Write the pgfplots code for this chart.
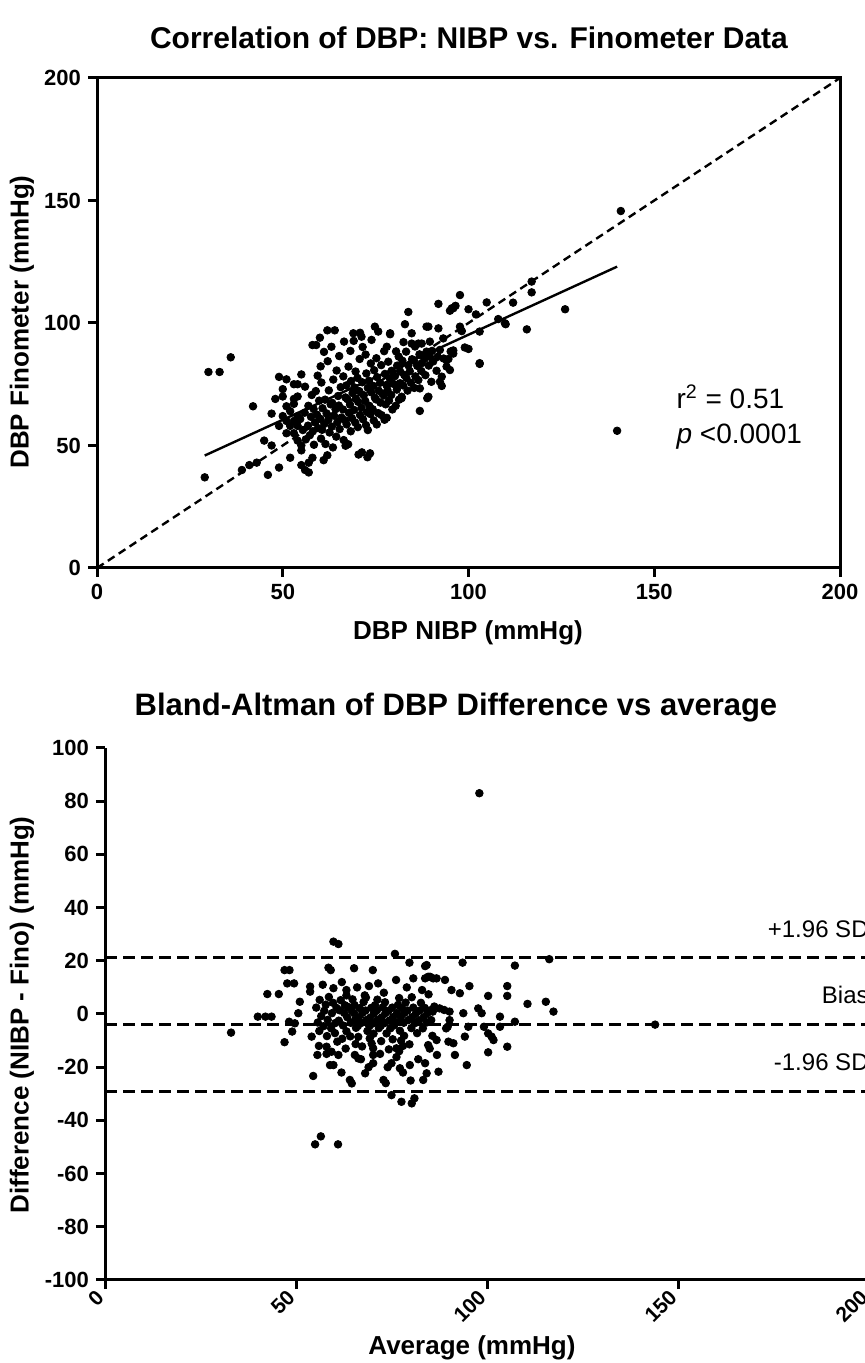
\documentclass[border=0pt]{standalone}
\usepackage{fontspec}
\setmainfont{Liberation Sans}
\usepackage{pgfplots}
\pgfplotsset{compat=1.18}
\pgfplotsset{
  prism/.style={
    scale only axis,
    axis line style={line width=1.5pt,-},
    every tick/.style={black,line width=1.5pt},
    tick align=outside,
    major tick length=4.5pt,
    xtick pos=left, ytick pos=left,
    tick label style={font=\bfseries\fontsize{11}{13}\selectfont},
    clip=false,
  },
  dots/.style={only marks, mark=*, mark size=1.9pt, black, mark options={fill=black}},
}
\begin{document}
\begin{tikzpicture}
\useasboundingbox (0pt,0pt) rectangle (432pt,681.5pt);
% ---------- titles and labels ----------
\node[font=\bfseries\fontsize{15}{18}\selectfont] at (234.5pt,662.5pt) {Correlation of DBP: NIBP vs. Finometer Data};
\node[font=\bfseries\fontsize{13}{15}\selectfont, rotate=90] at (11pt,520.5pt) {DBP Finometer (mmHg)};
\node[font=\bfseries\fontsize{13}{15}\selectfont] at (234pt,365pt) {DBP NIBP (mmHg)};
\node[font=\bfseries\fontsize{15.5}{18}\selectfont] at (228pt,327.5pt) {Bland-Altman of DBP Difference vs average};
\node[font=\bfseries\fontsize{13}{15}\selectfont, rotate=90] at (11pt,174pt) {Difference (NIBP - Fino) (mmHg)};
\node[font=\bfseries\fontsize{13}{15}\selectfont] at (236pt,7.5pt) {Average (mmHg)};

% ---------- top plot ----------
\begin{axis}[prism, at={(48.5pt,397.5pt)}, anchor=south west,
  width=371.5pt, height=245pt,
  xmin=0, xmax=200, ymin=0, ymax=200,
  xtick={0,50,100,150,200}, xticklabels={0,50,100,150,200},
  ytick={0,50,100,150,200}, yticklabels={0,50,100,150,200},
]
\addplot[black, line width=1.2pt, dash pattern=on 4pt off 2.5pt] coordinates {(0,0) (200,200)};
\addplot[black, line width=1.2pt] coordinates {(29,45.9) (140,123)};
\addplot[dots] coordinates {
(29,37) (30,80) (33,80) (36,86) (39,40) (41,42) (42,66) (43,43) (45,52) (46,38)
(47,50) (47,63) (48,69) (49,78) (49,41) (49,58) (50,70) (50,73) (51,77) (51,66)
(51,55) (52,45) (53,75) (53,69) (53,67) (54,75) (55,79) (56,74) (55,48) (56,40)
(57,39) (58,91) (59,91) (60,94) (62,97) (64,97)
(66.9,49.9) (72.9,56.3) (73.5,46.8) (72.8,45.2) (78,61.3) (82,69.3) (86.9,64.1) (88.9,69.3)
(86.9,73.3) (92.8,74.3) (103,83.6) (100,89.4) (97.7,111.4) (91.9,107.8) (95.9,106) (104.9,108.4)
(112,108.3) (109.8,99.9) (115.7,97.4) (83.8,104.5) (74.8,98.5) (75.7,96.5) (78.9,95.4) (89.2,98.5)
(69,95.8) (70.8,96) (71.2,94.4) (73.9,93.1)
(141,145.7) (117,116.9) (117,112.5) (126,105.6) (108,101.6) (110,99.5) (103,96.5) (103,83.3)
(95.5,106) (96.5,107) (95,105) (100,105.6) (102,103.5) (97.7,98.5) (98.2,96.7) (91.9,97.8)
(88.7,98.5) (82.9,99.5) (78.9,95.8) (78,90.3) (84.7,95.8) (86.5,91.6) (87.4,91.6) (84.7,91.6)
(89.6,92.4) (93.2,93.7) (92.3,89) (94.1,84.8) (95,80.8) (95.9,88.8) (95.9,87.5) (87.4,83.6)
(94.1,82.2) (92.8,78.1) (92.3,76) (90,76) (89.2,69.9) (82,69.9) (80.6,74.7) (81.6,75.4) (140,56)
(50,62) (51,60) (52,58) (52,64) (53,55) (53,60) (54,52) (54,58) (54,62) (54,70) (55,50) (55,42)
(58,45) (61,44) (62,46) (57,43)
(55.4,56.3) (54.7,60.8) (56.2,52.5) (56.8,58.1) (55.9,63.4) (57.3,54.2) (57.6,61.7) (56.9,66.2) (57.8,70.6) (58.4,50.3) (58.1,55.8) (58.7,59.4)
(58.3,64.9) (58.9,72.2) (59.5,57.1) (59.2,62.6) (59.8,68.3) (59.4,78.5) (60.3,52.8) (60.6,56.4) (60.1,60.9) (60.7,65.2) (60.4,75.7) (60.2,82.3)
(61.5,50.6) (61.2,58.8) (61.8,63.1) (61.4,68.7) (61.1,88.2) (62.6,55.3) (62.3,60.5) (62.9,66.8) (62.4,72.5) (62.1,84.4) (63.5,49.2) (63.2,57.7)
(63.8,62.2) (63.3,67.4) (63.6,76.9) (63.1,90.3) (64.4,53.6) (64.7,59.5) (64.2,64.8) (64.9,70.2) (64.5,80.6) (65.3,56.7) (65.8,61.4) (65.1,66.3)
(65.6,73.8) (65.2,86.5) (66.4,52.2) (66.7,60.3) (66.2,64.7) (66.9,69.6) (66.3,78.2) (66.5,92.4) (67.6,50.5) (67.2,58.6) (67.8,63.3) (67.4,68.9)
(67.1,74.5) (67.7,82.2) (68.3,55.8) (68.6,61.2) (68.1,66.7) (68.8,71.4) (68.4,76.3) (68.2,88.6) (69.5,59.4) (69.2,64.5) (69.7,69.1) (69.3,73.7)
(69.6,80.2) (69.1,92.7) (70.4,46.3) (70.2,57.5) (70.8,62.4) (70.3,67.8) (70.6,72.2) (70.1,77.6) (70.7,85.3) (71.3,47.2) (71.6,60.7) (71.2,65.4)
(71.8,70.5) (71.4,75.8) (71.5,90.2) (72.4,58.3) (72.7,63.6) (72.2,68.2) (72.9,73.5) (72.5,79.4) (72.3,87.1) (73.6,62.8) (73.3,66.2) (73.8,71.7)
(73.2,76.4) (73.7,83.5) (74.5,60.2) (74.2,64.8) (74.8,69.5) (74.4,74.3) (74.6,80.7) (75.3,58.6) (75.7,63.2) (75.1,68.8) (75.8,72.4) (75.4,77.9)
(75.2,85.6) (76.6,62.4) (76.3,67.5) (76.8,71.2) (76.2,75.6) (76.5,82.8) (77.4,60.5) (77.7,66.8) (77.2,70.4) (77.9,74.7) (77.5,79.2) (77.3,88.5)
(78.6,68.3) (78.2,72.6) (78.8,77.4) (78.4,84.2) (79.5,64.7) (79.2,70.6) (79.7,75.2) (79.3,80.5) (80.4,66.2) (80.7,72.8) (80.2,78.3) (80.8,82.6)
(80.5,88.4) (81.3,68.7) (81.6,80.2) (81.2,86.3) (82.4,74.5) (82.7,78.8) (82.2,84.6) (82.5,92.2) (83.6,72.4) (83.3,77.5) (83.8,82.7) (83.2,88.3)
(84.5,75.6) (84.2,80.3) (84.8,85.2) (85.4,73.5) (85.7,78.2) (85.3,84.6) (85.6,90.4) (86.5,76.7) (86.2,82.5) (86.8,87.2) (87.3,80.4) (87.6,86.6)
(88.4,78.7) (88.2,85.4) (88.7,88.3) (89.3,82.6) (89.6,86.2) (90.5,84.3) (90.2,88.6) (91.4,80.5) (91.7,86.2) (93.3,85.5) (94.6,85.3) (95.2,88.4)
(99,90) (98,97)
};
\node[anchor=base west, inner sep=0pt, font=\fontsize{14}{16}\selectfont] at (axis cs:155.9,64.9) {r\textsuperscript{2} = 0.51};
\node[anchor=base west, inner sep=0pt, font=\fontsize{14}{16}\selectfont] at (axis cs:155.9,51) {\textit{p} <0.0001};
\end{axis}

% ---------- bottom plot ----------
\begin{axis}[prism, at={(52.5pt,41.5pt)}, anchor=south west,
  width=382pt, height=266pt,
  xmin=0, xmax=200, ymin=-100, ymax=100,
  axis x line*=bottom, axis y line*=left,
  axis line style={line width=1.5pt,-},
  xtick={0,50,100,150,200}, xticklabels={0,50,100,150,200},
  ytick={-100,-80,-60,-40,-20,0,20,40,60,80,100},
  yticklabels={-100,-80,-60,-40,-20,0,20,40,60,80,100},
  xticklabel style={rotate=45, anchor=east, font=\bfseries\fontsize{10.5}{12}\selectfont},
]
\addplot[black, line width=1.3pt, dash pattern=on 6pt off 3pt] coordinates {(0,21.2) (200,21.2)};
\addplot[black, line width=1.3pt, dash pattern=on 6pt off 3pt] coordinates {(0,-4) (200,-4)};
\addplot[black, line width=1.3pt, dash pattern=on 6pt off 3pt] coordinates {(0,-29.2) (200,-29.2)};
\addplot[dots] coordinates {
(33,-7) (40,-1) (42,-1) (43.6,-1) (42.5,7.5) (45.5,7.5) (47,16.5) (48.3,16.5) (47.7,11.5) (49.5,11.5)
(47,-10.6) (49,-6.6) (48.2,-2.9) (49.7,-3.5) (50.6,0.3) (51,4.6) (54.5,-23.3) (54.1,-8.5) (55.6,-15.4)
(58.5,17.4) (59.1,16.5) (53.7,10.3) (53.7,8.4) (58.9,-19.2) (59.8,-19.2) (58,-12.3) (59.3,-14.2)
(61.9,-22) (61.1,-15.4) (64.1,-24.8) (64.6,-26.1) (65.2,17.2) (70.1,16.5) (68.1,-22.3) (65.4,-15.4)
(66.3,-16.7) (70.2,-18.5) (72.9,-24.8) (73.5,-26) (75,-30.5) (77.6,-33) (80.3,-33.6) (81,-31.7)
(75.9,22.6) (79.7,19.3) (84.2,18.4) (80.7,13.4) (84.6,14) (85.9,13.4) (76.2,12.8) (71.5,11.5)
(69.1,10.5) (63.2,9) (63.2,7) (59.8,9.7) (84.2,-22.3) (83.3,-24.8) (79.8,-19.2) (77.2,-20.4)
(75,-18.5) (70.2,-15.4) (70.2,-12.9) (69.8,-11.1) (76.3,-12.9) (77,-14) (78,-12) (77.5,-10)
(59.8,27.2) (61.1,26.3) (55,-49) (56.5,-46) (61,-49) (98,83) (144,-4)
(93.6,19.3) (107.3,18.2) (116.3,20.6) (95.4,10.5) (105.3,10.5) (105.3,6.8) (100.3,6.8) (110.6,3.8)
(115.4,4.6) (117.4,0.9) (97.7,2.1) (98.6,0.3) (103.4,-1) (107.3,-2.9) (99.2,-4.8) (103.4,-4.8)
(95.1,-4.8) (100.3,-7.3) (101.2,-8.5) (101.7,-9.8) (105.3,-12.3) (100.3,-14.4) (94.2,-8.5) (93.8,0.3)
(92.9,7.8) (90.7,9) (89,12.8) (86.8,13.4) (85.1,14) (83.8,13.4) (83.8,18) (91.6,-15.4) (94.7,-19.2)
(86.9,-15.4) (83.8,-18.5) (87.3,-21.7) (89.9,-10.4) (91.2,-11) (86.8,-9.8) (84.6,-11.7) (89.7,-4.8)
(89.3,-5.4) (90.2,-2.3) (88.8,1.5) (90.2,0.9) (87.6,2.1) (86.2,2.8) (85.8,0.9)
(55.3,2.4) (55.7,-3.2) (56.2,5.3) (56.6,-0.8) (56.1,-6.4) (57.4,1.2) (57.2,-4.6) (57.8,3.5) (58.3,-2.2) (58.6,6.4) (58.1,-8.3) (59.4,0.3) (59.2,-5.4)
(59.7,4.2) (60.3,-3.4) (60.6,2.3) (60.2,-7.2) (60.8,-10.4) (61.4,1.4) (61.2,-2.5) (61.7,5.2) (62.3,-4.3) (62.6,0.4) (62.1,-9.3) (62.8,3.3) (63.4,-1.2)
(63.2,-6.5) (63.7,2.6) (64.3,-3.3) (64.6,1.2) (64.2,-8.4) (64.8,5.5) (65.4,-2.4) (65.2,0.3) (65.7,-5.2) (65.3,3.4) (65.6,-11.3) (66.4,-1.3) (66.2,-4.5)
(66.7,2.2) (66.3,-8.6) (67.4,0.4) (67.2,-3.3) (67.7,4.5) (67.3,-12.2) (68.4,-2.3) (68.2,1.3) (68.7,-6.4) (68.3,6.2) (69.4,-1.4) (69.2,-4.6) (69.7,2.3)
(69.3,-9.2) (70.4,0.2) (70.2,-3.5) (70.7,3.3) (70.3,-7.4) (71.4,-2.2) (71.2,1.4) (71.7,-5.3) (71.3,5.4) (72.4,-1.3) (72.2,-4.4) (72.7,2.5) (72.3,-10.2)
(73.4,0.3) (73.2,-3.4) (73.7,-7.3) (73.3,4.4) (74.4,-2.5) (74.2,1.2) (74.7,-5.4) (74.3,-13.3) (75.4,-1.2) (75.2,2.4) (75.7,-4.3) (75.3,-9.5) (76.4,0.3)
(76.2,-3.2) (76.7,3.4) (76.3,-16.2) (77.4,-1.4) (77.2,-6.3) (77.7,2.2) (78.4,0.4) (78.2,-3.3) (78.7,4.3) (78.3,-8.2) (79.4,-2.3) (79.2,1.3) (79.7,-11.4)
(80.4,-1.2) (80.2,-5.3) (80.7,2.4) (80.3,6.3) (81.4,0.2) (81.2,-3.4) (81.7,-7.2) (82.4,1.3) (82.2,-2.4) (82.7,4.2) (83.4,-1.3) (83.2,-5.4) (83.7,2.3)
(84.4,0.3) (84.2,-3.2) (84.7,7.4) (85.4,-2.3) (85.2,1.4) (85.7,-8.2)
(56,-12) (58,-15) (63,-13) (67,-17) (69,-20) (72,-15) (74,-20) (78,-22) (80,-25) (82,-17) (85,-13)
(57,11) (62,12) (66,10) (68,7) (73,8) (77,6) (79,10) (83,9)
};
\node[anchor=base east, inner sep=0pt, font=\fontsize{12}{14}\selectfont] at (axis cs:200,28.6) {+1.96 SD};
\node[anchor=base east, inner sep=0pt, font=\fontsize{12}{14}\selectfont] at (axis cs:200,4.1) {Bias};
\node[anchor=base east, inner sep=0pt, font=\fontsize{12}{14}\selectfont] at (axis cs:200,-21.4) {-1.96 SD};
\end{axis}
\end{tikzpicture}
\end{document}
